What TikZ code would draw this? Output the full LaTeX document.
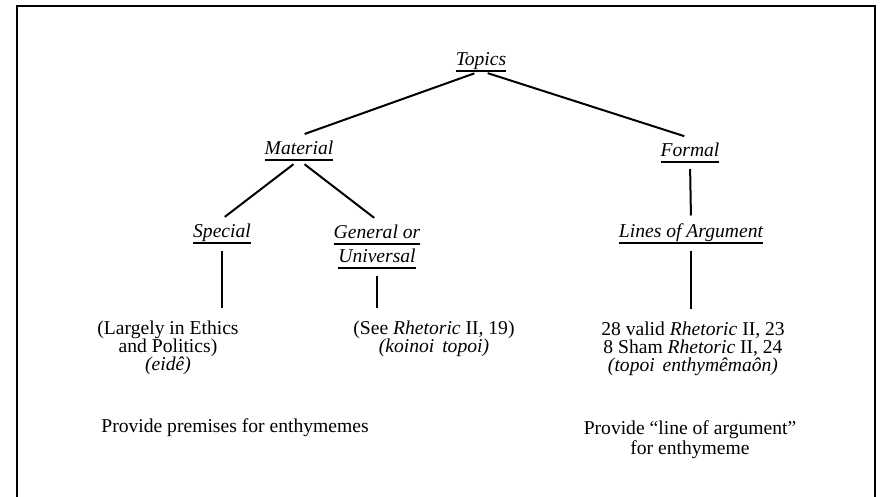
\documentclass[tikz,border=0pt]{standalone}
\usepackage{fontspec}
\setmainfont{Liberation Serif}
\usetikzlibrary{positioning}

\tikzset{
  topic/.style={font=\fontsize{9.8}{9}\selectfont\itshape, inner sep=0pt, outer sep=0pt,
    text height=9.5pt, text depth=2.5pt, anchor=base,
    append after command={(\tikzlastnode.south west) edge[line width=0.8pt] (\tikzlastnode.south east)}},
  gloss/.style={font=\fontsize{9.8}{9}\selectfont, inner sep=0pt, align=center},
  tie/.style={line width=1pt}
}

\begin{document}
\begin{tikzpicture}[x=0.5pt, y=-0.5pt]
  \useasboundingbox (0,0) rectangle (880,497);
  \draw[line width=0.9pt] (17,497) -- (17,6) -- (875,6) -- (875,497);

  \node[topic] (topics) at (481,66) {Topics};
  \node[topic] (material) at (299,155) {Material};
  \node[topic] (formal) at (690,157) {Formal};
  \node[topic] (special) at (222,238) {Special};
  \node[topic] (general) at (377,239) {General or};
  \node[topic] (universal) at (377,263) {Universal};
  \node[topic] (lines) at (691,238) {Lines of Argument};

  \node[gloss, anchor=north] (ethics) at (168,321) {(Largely in Ethics\\and Politics)\\\textit{(eidê)}};
  \node[gloss, anchor=north] (see) at (434,321) {(See \textit{Rhetoric} II, 19)\\\textit{(koinoi\hspace{0.4em}topoi)}};
  \node[gloss, anchor=north] (valid) at (693,322) {28 valid \textit{Rhetoric} II, 23\\8 Sham \textit{Rhetoric} II, 24\\\textit{(topoi\hspace{0.4em}enthymêmaôn)}};
  \node[gloss, anchor=base] (premises) at (235,433) {Provide premises for enthymemes};
  \node[gloss, anchor=north] (argline) at (690,420) {Provide ``line of argument''\\for enthymeme};

  \path[tie, shorten <=3.5pt, shorten >=3pt]
    (topics.south) edge (material.north)
    (topics.south) edge (formal.north);
  \path[tie, shorten <=3.5pt, shorten >=1.75pt]
    (material.south) edge (special.north)
    (material.south) edge (general.north)
    (formal.south) edge (lines.north);
  \path[tie, shorten <=4pt, shorten >=6.5pt]
    (special.south) edge (special.south |- ethics.north)
    (universal.south) edge (universal.south |- see.north)
    (lines.south) edge (lines.south |- valid.north);
\end{tikzpicture}
\end{document}
